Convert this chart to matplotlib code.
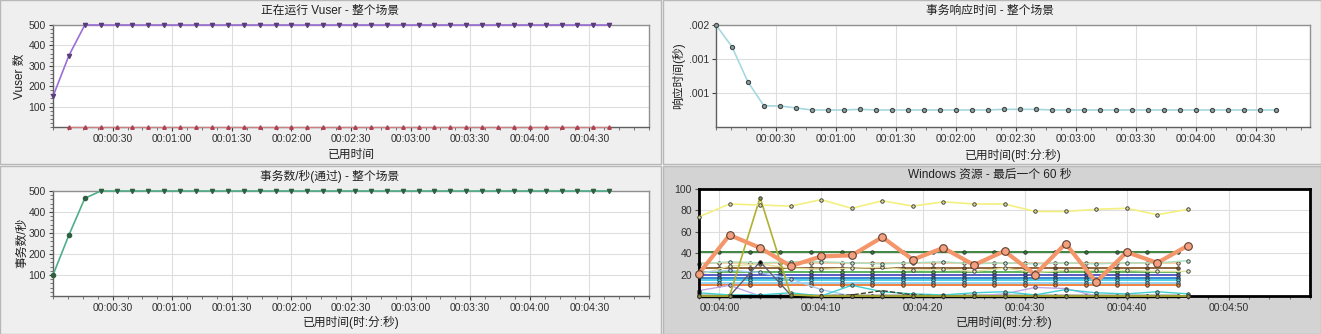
import matplotlib
matplotlib.use("Agg")
import matplotlib.pyplot as plt
from matplotlib.patches import Rectangle
from matplotlib.ticker import MultipleLocator, FixedLocator, FixedFormatter, FuncFormatter

plt.rcParams['font.family'] = ['Liberation Sans', 'Noto Sans CJK SC', 'DejaVu Sans']

W, H = 1321, 334

# ---- data: elapsed seconds, sampled every 8 s ----
t_run = [0, 8, 16, 24, 32, 40, 48, 56, 64, 72, 80, 88, 96, 104, 112, 120, 128, 136,
         144, 152, 160, 168, 176, 184, 192, 200, 208, 216, 224, 232, 240, 248, 256, 264, 272, 280]

vusers_running = [150, 350] + [500] * 34
vusers_done = [0] * 35

resp_time = [0.00200, 0.00168, 0.00116, 0.00081, 0.00081, 0.00078, 0.00075, 0.00075, 0.00075,
             0.00076, 0.00075, 0.00075, 0.00075, 0.00075, 0.00075, 0.00075, 0.00075, 0.00075,
             0.00076, 0.00076, 0.00076, 0.00075, 0.00075, 0.00075, 0.00075, 0.00075, 0.00075,
             0.00075, 0.00075, 0.00075, 0.00075, 0.00075, 0.00075, 0.00075, 0.00075, 0.00075]

trans_per_sec = [100, 290, 465] + [500] * 33

# ---- Windows resources, last 60 s ----
t_res = [238, 241, 244, 247, 250, 253, 256, 259, 262, 265, 268, 271, 274, 277, 280, 283, 286]
cpu_yellow = [74, 86, 85, 84, 90, 82, 89, 84, 88, 86, 86, 79, 79, 81, 82, 76, 81]
cpu_orange = [21, 57, 45, 28, 37, 38, 55, 34, 45, 29, 42, 20, 49, 13, 41, 31, 47]
pale_green = [30, 32, 31, 32, 32, 31, 30, 31, 32, 30, 31, 30, 31, 30, 31, 31, 33]
pale_olive = [20, 28, 30, 26, 25, 26, 27, 24, 25, 23, 26, 22, 24, 24, 24, 23, 23]
olive_spike = [0, 0, 92, 1, 0, 0, 0, 0, 0, 0, 0, 0, 0, 0, 0, 0, 0]
gray_spike = [0, 0, 32, 1, 0, 0, 0, 0, 0, 0, 0, 0, 0, 0, 0, 0, 0]
light_blue = [22, 24, 22, 16, 6, 0, 0, 0, 0, 0, 0, 0, 0, 0, 0, 0, 0]
lavender = [5, 10, 0, 0, 0, 0, 0, 0, 0, 0, 2, 8, 7, 0, 0, 0, 0]
cyan_low = [3, 1, 1, 3, 0, 10, 4, 2, 1, 3, 4, 1, 6, 3, 2, 4, 2]
dashed_low = [0, 0, 0, 0, 0, 1, 5, 1, 0, 0, 0, 0, 0, 0, 0, 0, 0]

t_flat = [238, 240, 243, 246, 249, 252, 255, 258, 261, 264, 267, 270, 273, 276, 279, 282, 285]
flat_levels = [41, 31, 26.5, 22, 19.5, 17, 14.5, 12, 10, 0]
flat_colors = ['#2e7d32', '#f6c8a0', '#8b5a2b', '#4caf50', '#5050c0',
               '#2a7fd0', '#40c8e0', '#8fd0f0', '#f07830', '#000000']


def hms(x, pos):
    s = int(round(x))
    return f"{s // 3600:02d}:{s % 3600 // 60:02d}:{s % 60:02d}"


def add_axes_px(l, r, t, b):
    return fig.add_axes([l / W, 1 - b / H, (r - l) / W, (b - t) / H])


def panel_bg(x0, y0, x1, y1, fc):
    fig.patches.append(Rectangle((x0 / W, 1 - y1 / H), (x1 - x0) / W, (y1 - y0) / H,
                                 transform=fig.transFigure, fc=fc, ec='#b8b8b8', lw=1, zorder=-5))


def style(ax, edge='#909090'):
    ax.set_facecolor('white')
    for s in ax.spines.values():
        s.set_color(edge)
        s.set_linewidth(1)
    ax.spines['left'].set_color('#606060')
    ax.spines['bottom'].set_color('#606060')
    ax.grid(True, which='major', color='#dedede', lw=0.8)
    ax.set_axisbelow(True)
    ax.tick_params(labelsize=7.5, colors='#404040', labelcolor='#303030', length=3, pad=2)
    ax.tick_params(which='minor', length=2, colors='#606060')
    ax.xaxis.set_major_formatter(FuncFormatter(hms))


fig = plt.figure(figsize=(W / 100, H / 100), dpi=100)
fig.patch.set_facecolor('#f4f4f4')

panel_bg(0, 0, 661, 164, '#efefef')
panel_bg(663, 0, 1321, 164, '#efefef')
panel_bg(0, 166, 661, 334, '#efefef')
panel_bg(663, 166, 1321, 334, '#d3d3d3')

tfont = dict(fontsize=8.5, ha='center', va='center', color='#202020')

# ---- panel 1: running vusers ----
ax1 = add_axes_px(53, 649, 25, 127)
style(ax1)
ax1.plot(t_run, vusers_running, color='#9b6ed6', lw=1.2, marker='v', ms=3,
         mfc='#5a3d7a', mec='#5a3d7a', clip_on=False, zorder=3)
ax1.plot(t_run[1:], vusers_done, color='#d08080', lw=0.8, marker='^', ms=2.5,
         mfc='#b04050', mec='#b04050', clip_on=False, zorder=3)
ax1.set_xlim(0, 300)
ax1.set_ylim(0, 500)
ax1.xaxis.set_major_locator(FixedLocator(list(range(30, 300, 30))))
ax1.xaxis.set_minor_locator(MultipleLocator(7.5))
ax1.yaxis.set_major_locator(FixedLocator([100, 200, 300, 400, 500]))
ax1.yaxis.set_minor_locator(MultipleLocator(20))
fig.text(330 / W, 1 - 11 / H, '正在运行 Vuser - 整个场景', **tfont)
fig.text(351 / W, 1 - 155 / H, '已用时间', **tfont)
fig.text(20 / W, 1 - 76 / H, 'Vuser 数', rotation=90, **tfont)

# ---- panel 2: transaction response time ----
ax2 = add_axes_px(716, 1310, 25, 127)
style(ax2)
ax2.plot(t_run, resp_time, color='#a6d8e0', lw=1.2, marker='o', ms=3,
         mfc='#8a9c9c', mec='#404848', mew=0.8, clip_on=False, zorder=3)
ax2.set_xlim(0, 297)
ax2.set_ylim(0.0005, 0.002)
ax2.xaxis.set_major_locator(FixedLocator(list(range(30, 300, 30))))
ax2.xaxis.set_minor_locator(MultipleLocator(7.5))
ax2.yaxis.set_major_locator(FixedLocator([0.001, 0.0015, 0.002]))
ax2.yaxis.set_major_formatter(FixedFormatter(['.001', '.001', '.002']))
fig.text(990 / W, 1 - 11 / H, '事务响应时间 - 整个场景', **tfont)
fig.text(1013 / W, 1 - 155 / H, '已用时间(时:分:秒)', **tfont)
fig.text(679 / W, 1 - 76 / H, '响应时间(秒)', rotation=90, **tfont)

# ---- panel 3: transactions per second ----
ax3 = add_axes_px(53, 649, 191, 296)
style(ax3)
ax3.plot(t_run, trans_per_sec, color='#4fae8a', lw=1.2, zorder=3, clip_on=False)
ax3.plot(t_run[:3], trans_per_sec[:3], ls='none', marker='o', ms=3,
         mfc='#2f5f40', mec='#2f5f40', zorder=4, clip_on=False)
ax3.plot(t_run[3:], trans_per_sec[3:], ls='none', marker='v', ms=3,
         mfc='#2f5f40', mec='#2f5f40', zorder=4, clip_on=False)
ax3.set_xlim(0, 300)
ax3.set_ylim(0, 500)
ax3.xaxis.set_major_locator(FixedLocator(list(range(30, 300, 30))))
ax3.xaxis.set_minor_locator(MultipleLocator(7.5))
ax3.yaxis.set_major_locator(FixedLocator([100, 200, 300, 400, 500]))
ax3.yaxis.set_minor_locator(MultipleLocator(20))
fig.text(330 / W, 1 - 176 / H, '事务数/秒(通过) - 整个场景', **tfont)
fig.text(351 / W, 1 - 322 / H, '已用时间(时:分:秒)', **tfont)
fig.text(22 / W, 1 - 243 / H, '事务数/秒', rotation=90, **tfont)

# ---- panel 4: windows resources ----
ax4 = add_axes_px(699, 1310, 189, 296)
style(ax4)
for s in ax4.spines.values():
    s.set_color('black')
    s.set_linewidth(2)
mk = dict(marker='o', ms=2.5, mec='#303030', mew=0.6, clip_on=False)
for lvl, c in zip(flat_levels, flat_colors):
    ax4.plot(t_flat, [lvl] * len(t_flat), color=c, lw=1.3 if lvl else 2.5,
             markevery=slice(1, None), mfc=c, zorder=2, **mk)
ax4.plot(t_res, pale_olive, color='#e0e0a0', lw=1, mfc='#e8e8c0', zorder=2, **mk)
ax4.plot(t_res, pale_green, color='#a8e0c0', lw=1, mfc='#b8e8d0', zorder=2, **mk)
ax4.plot(t_res, light_blue, color='#a8cff0', lw=1, mfc='#a8cff0', zorder=2, **mk)
ax4.plot(t_res, lavender, color='#c0a8e8', lw=1, mfc='#c0a8e8', zorder=2, **mk)
ax4.plot(t_res, cyan_low, color='#40d0d0', lw=1, mfc='#60c0c0', zorder=2, **mk)
ax4.plot(t_res, dashed_low, color='#404020', lw=1, ls='--', zorder=2, clip_on=False)
ax4.plot(t_res, gray_spike, color='#606070', lw=1, mfc='black', zorder=3, **mk)
ax4.plot(t_res, olive_spike, color='#b0b030', lw=1.2, mfc='#909040', zorder=3, **mk)
ax4.plot(t_res, cpu_yellow, color='#f4f080', lw=1.2, mfc='#d8d8a0', zorder=3, **mk)
ax4.plot(t_res, cpu_orange, color='#f4956a', lw=3, marker='o', ms=5.5, mfc='#f4a080',
         mec='#604030', mew=0.8, zorder=4, clip_on=False)
ax4.set_xlim(238, 298)
ax4.set_ylim(0, 100)
ax4.xaxis.set_major_locator(FixedLocator([240, 250, 260, 270, 280, 290]))
ax4.xaxis.set_minor_locator(MultipleLocator(2))
ax4.yaxis.set_major_locator(FixedLocator([20, 40, 60, 80, 100]))
ax4.tick_params(which='both', colors='#505050')
ax4.tick_params(labelcolor='#303030')
fig.text(990 / W, 1 - 175 / H, 'Windows 资源 - 最后一个 60 秒', **tfont)
fig.text(1004 / W, 1 - 322 / H, '已用时间(时:分:秒)', **tfont)

fig.savefig('out.png', dpi=100, facecolor=fig.get_facecolor())
